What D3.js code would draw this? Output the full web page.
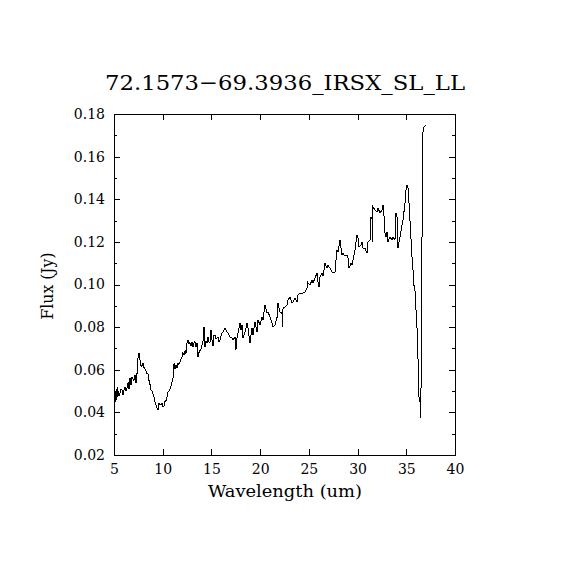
<!DOCTYPE html>
<html>
<head>
<meta charset="utf-8">
<script src="https://cdn.jsdelivr.net/npm/d3@7"></script>
<style>
	body { margin: 0; background: #fff; }
	text { font-family: "DejaVu Serif", serif; fill: #000; }
</style>
</head>
<body>
<svg id="chart" width="570" height="570"></svg>
<script>
'use strict';

var title = '72.1573\u221269.3936_IRSX_SL_LL';
var xLabel = 'Wavelength (um)';
var yLabel = 'Flux (Jy)';

var xTicks = [5, 10, 15, 20, 25, 30, 35, 40];
var yTicks = [0.02, 0.04, 0.06, 0.08, 0.10, 0.12, 0.14, 0.16, 0.18];
var yMinorTicks = [0.03, 0.05, 0.07, 0.09, 0.11, 0.13, 0.15, 0.17];

// spectrum
var wavelength = [
	5.05, 5.10, 5.15, 5.21, 5.26, 5.31, 5.36, 5.41, 5.46, 5.51,
	5.62, 5.72, 5.82, 5.92, 6.03, 6.13, 6.23, 6.33, 6.44, 6.54,
	6.64, 6.75, 6.85, 6.95, 7.05, 7.16, 7.26, 7.36, 7.46, 7.57,
	7.67, 7.77, 7.87, 7.98, 8.08, 8.18, 8.29, 8.39, 8.49, 8.59,
	8.70, 8.80, 8.90, 9.00, 9.11, 9.21, 9.31, 9.41, 9.52, 9.62,
	9.72, 9.82, 9.93, 10.03, 10.13, 10.23, 10.34, 10.44, 10.54, 10.65,
	10.75, 10.85, 10.95, 11.06, 11.16, 11.26, 11.36, 11.47, 11.57, 11.67,
	11.77, 11.88, 11.98, 12.08, 12.18, 12.29, 12.39, 12.49, 12.60, 12.70,
	12.80, 12.90, 13.01, 13.11, 13.21, 13.31, 13.42, 13.52, 13.62, 13.72,
	13.83, 13.93, 14.03, 14.13, 14.24, 14.34, 14.45, 14.55, 14.65, 14.75,
	14.85, 14.96, 15.06, 15.16, 15.26,
	15.37, 15.47, 15.57, 15.67, 15.78, 15.88, 16.08, 16.19, 16.39, 16.60,
	16.70, 16.91, 17.11, 17.21, 17.42, 17.52, 17.62, 17.73, 17.93, 18.03,
	18.14, 18.24, 18.45, 18.65, 18.75, 18.96, 19.16, 19.27, 19.47, 19.68,
	19.78, 19.99, 20.19, 20.29, 20.50, 20.70, 20.81, 21.01, 21.22, 21.32,
	21.52, 21.73, 21.83, 22.04, 22.24, 22.29, 22.35, 22.55, 22.76, 22.86,
	23.06,
	23.27, 23.37, 23.58, 23.78, 23.89, 24.09, 24.40, 24.60, 24.81, 24.86,
	24.91, 25.12, 25.32, 25.42, 25.63, 25.84, 25.94, 26.04, 26.14, 26.35,
	26.45, 26.66, 26.86, 26.96, 27.17, 27.37, 27.48, 27.68, 27.79, 27.89,
	27.99, 28.20, 28.30, 28.40, 28.50, 28.71, 28.91, 29.02, 29.12, 29.33,
	29.43, 29.53, 29.74, 29.94, 30.04, 30.15, 30.35, 30.45, 30.56, 30.76,
	30.97, 31.07, 31.28, 31.38, 31.48, 31.53, 31.58, 31.79, 31.99, 32.10,
	32.30, 32.51, 32.61, 32.71, 32.81, 32.92, 33.02, 33.12, 33.33, 33.53,
	33.64, 33.84, 33.94, 34.05, 34.15, 34.35, 34.56, 34.66, 34.87, 34.97,
	35.07, 35.18, 35.28, 35.48, 35.53, 35.59, 35.69, 35.74, 35.89, 36.00,
	36.10, 36.20, 36.30, 36.41, 36.44, 36.51, 36.58, 36.64, 36.72, 36.82,
	37.02
];
var flux = [
	0.0435, 0.0444, 0.0500, 0.0460, 0.0510, 0.0470, 0.0520, 0.0480, 0.0500, 0.0475,
	0.0490, 0.0510, 0.0505, 0.0480, 0.0505, 0.0520, 0.0500, 0.0515, 0.0540, 0.0510,
	0.0560, 0.0530, 0.0566, 0.0555, 0.0550, 0.0575, 0.0540, 0.0580, 0.0655, 0.0680,
	0.0646, 0.0620, 0.0615, 0.0630, 0.0610, 0.0605, 0.0595, 0.0580, 0.0582, 0.0550,
	0.0530, 0.0505, 0.0500, 0.0488, 0.0470, 0.0449, 0.0435, 0.0420, 0.0410, 0.0444,
	0.0435, 0.0436, 0.0444, 0.0425, 0.0430, 0.0450, 0.0455, 0.0470, 0.0496, 0.0500,
	0.0510, 0.0525, 0.0540, 0.0560, 0.0630, 0.0605, 0.0620, 0.0610, 0.0630, 0.0625,
	0.0636, 0.0650, 0.0660, 0.0680, 0.0670, 0.0690, 0.0675, 0.0725, 0.0740, 0.0720,
	0.0727, 0.0710, 0.0732, 0.0707, 0.0725, 0.0732, 0.0705, 0.0727, 0.0660, 0.0680,
	0.0690, 0.0695, 0.0715, 0.0730, 0.0800, 0.0705, 0.0735, 0.0725, 0.0754, 0.0730,
	0.0725, 0.0787, 0.0740, 0.0710, 0.0763,
	0.0763, 0.0745, 0.0749, 0.0754, 0.0730, 0.0740, 0.0772, 0.0777, 0.0796, 0.0777,
	0.0772, 0.0754, 0.0749, 0.0740, 0.0754, 0.0693, 0.0749, 0.0772, 0.0819, 0.0787,
	0.0810, 0.0749, 0.0777, 0.0819, 0.0796, 0.0725, 0.0796, 0.0763, 0.0824, 0.0777,
	0.0833, 0.0810, 0.0848, 0.0833, 0.0904, 0.0866, 0.0871, 0.0848, 0.0819, 0.0801,
	0.0810, 0.0843, 0.0913, 0.0871, 0.0866, 0.0801, 0.0890, 0.0894, 0.0904, 0.0927,
	0.0941,
	0.0913, 0.0918, 0.0937, 0.0918, 0.0950, 0.0960, 0.0960, 0.0965, 0.0983, 0.1011,
	0.1007, 0.0997, 0.1021, 0.1007, 0.1030, 0.1054, 0.1011, 0.0988, 0.1035, 0.1054,
	0.1040, 0.1100, 0.1077, 0.1091, 0.1077, 0.1058, 0.1054, 0.1058, 0.1115, 0.1162,
	0.1152, 0.1208, 0.1171, 0.1138, 0.1147, 0.1133, 0.1138, 0.1124, 0.1077, 0.1100,
	0.1091, 0.1115, 0.1162, 0.1232, 0.1218, 0.1176, 0.1185, 0.1200, 0.1171, 0.1171,
	0.1147, 0.1200, 0.1208, 0.1317, 0.1312, 0.1200, 0.1364, 0.1350, 0.1340, 0.1359,
	0.1336, 0.1350, 0.1373, 0.1326, 0.1242, 0.1223, 0.1246, 0.1200, 0.1223, 0.1208,
	0.1223, 0.1208, 0.1336, 0.1317, 0.1171, 0.1223, 0.1279, 0.1302, 0.1382, 0.1443,
	0.1467, 0.1453, 0.1382, 0.1223, 0.1150, 0.1129, 0.1068, 0.1007, 0.0974, 0.0880,
	0.0796, 0.0660, 0.0472, 0.0449, 0.0374, 0.0496, 0.0894, 0.1453, 0.1725, 0.1739,
	0.1748
];

var plot = { left: 114, right: 455, top: 114, bottom: 455 };

var svg = d3.select('#chart');

svg.append('rect')
	.attr('width', 570)
	.attr('height', 570)
	.attr('fill', '#fff');

var x = d3.scaleLinear().domain([5, 40]).range([plot.left, plot.right]);
var y = d3.scaleLinear().domain([0.02, 0.18]).range([plot.bottom, plot.top]);

var styleAxis = function(g) {
	g.select('.domain').remove();
	g.selectAll('.tick line')
		.attr('stroke', '#000')
		.attr('shape-rendering', 'crispEdges');
	g.selectAll('.tick text')
		.style('font-size', '14px')
		.style('font-family', '"DejaVu Serif", serif');
	return g;
};

// bottom and top
svg.append('g')
	.attr('transform', 'translate(0,' + plot.bottom + ')')
	.call(d3.axisBottom(x).tickValues(xTicks).tickSize(-6).tickPadding(9).tickFormat(d3.format('d')))
	.call(styleAxis);
svg.append('g')
	.attr('transform', 'translate(0,' + plot.top + ')')
	.call(d3.axisTop(x).tickValues(xTicks).tickSize(-6).tickFormat(''))
	.call(styleAxis);

// left and right, major and minor
svg.append('g')
	.attr('transform', 'translate(' + plot.left + ',0)')
	.call(d3.axisLeft(y).tickValues(yTicks).tickSize(-6).tickPadding(9).tickFormat(d3.format('.2f')))
	.call(styleAxis);
svg.append('g')
	.attr('transform', 'translate(' + plot.left + ',0)')
	.call(d3.axisLeft(y).tickValues(yMinorTicks).tickSize(-3).tickFormat(''))
	.call(styleAxis);
svg.append('g')
	.attr('transform', 'translate(' + plot.right + ',0)')
	.call(d3.axisRight(y).tickValues(yTicks).tickSize(-6).tickFormat(''))
	.call(styleAxis);
svg.append('g')
	.attr('transform', 'translate(' + plot.right + ',0)')
	.call(d3.axisRight(y).tickValues(yMinorTicks).tickSize(-3).tickFormat(''))
	.call(styleAxis);

svg.append('rect')
	.attr('x', plot.left)
	.attr('y', plot.top)
	.attr('width', plot.right - plot.left)
	.attr('height', plot.bottom - plot.top)
	.attr('fill', 'none')
	.attr('stroke', '#000')
	.attr('shape-rendering', 'crispEdges');

var line = d3.line()
	.x(function(d) { return x(d[0]); })
	.y(function(d) { return y(d[1]); });

svg.append('path')
	.datum(d3.zip(wavelength, flux))
	.attr('d', line)
	.attr('fill', 'none')
	.attr('stroke', '#000')
	.attr('stroke-width', 1)
	.attr('shape-rendering', 'crispEdges');

svg.append('text')
	.attr('x', 285)
	.attr('y', 90)
	.attr('text-anchor', 'middle')
	.attr('textLength', 360)
	.attr('lengthAdjust', 'spacingAndGlyphs')
	.style('font-size', '21px')
	.text(title);

svg.append('text')
	.attr('x', 285)
	.attr('y', 497)
	.attr('text-anchor', 'middle')
	.attr('textLength', 154)
	.attr('lengthAdjust', 'spacingAndGlyphs')
	.style('font-size', '16px')
	.text(xLabel);

svg.append('text')
	.attr('transform', 'translate(53,286) rotate(-90)')
	.attr('text-anchor', 'middle')
	.attr('textLength', 67)
	.attr('lengthAdjust', 'spacingAndGlyphs')
	.style('font-size', '16px')
	.text(yLabel);
</script>
</body>
</html>
